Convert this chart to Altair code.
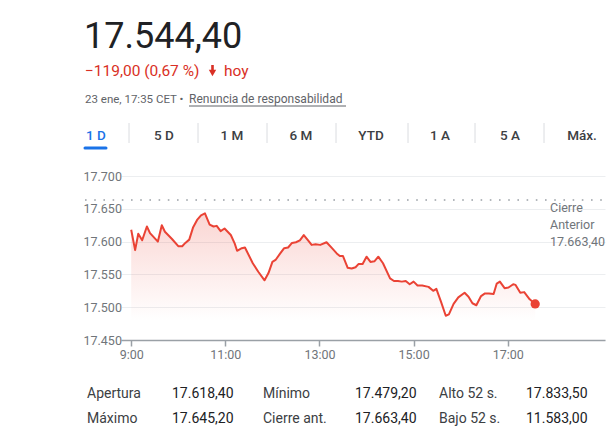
import altair as alt
import pandas as pd

# ---------------- data ----------------
price_text = "17.544,40"
change_text = "\u2212119,00 (0,67 %)"
change_suffix = "hoy"
date_text = "23 ene, 17:35 CET \u2022"
link_text = "Renuncia de responsabilidad"
tabs = ["1 D", "5 D", "1 M", "6 M", "YTD", "1 A", "5 A", "Máx."]
prev_close = 17663.4
prev_close_label = ["Cierre", "Anterior", "17.663,40"]

times = ["9:00", "9:05", "9:09", "9:14", "9:20", "9:24", "9:34", "9:39", "9:43", "9:52",
         "10:00", "10:05", "10:09", "10:14", "10:19", "10:24", "10:29", "10:34", "10:40", "10:45",
         "10:49", "10:54", "10:59", "11:07", "11:12", "11:15", "11:21", "11:25", "11:35", "11:42",
         "11:50", "11:55", "12:00", "12:04", "12:10", "12:15", "12:20", "12:25", "12:30", "12:35",
         "12:40", "12:46", "12:50", "12:55", "13:01", "13:09", "13:16", "13:22", "13:26", "13:30",
         "13:36", "13:41", "13:46", "13:50", "13:55", "14:00", "14:05", "14:10", "14:15", "14:21",
         "14:30", "14:35", "14:40", "14:45", "14:50", "14:55", "15:00", "15:05", "15:11", "15:19",
         "15:25", "15:29", "15:35", "15:41", "15:45", "15:51", "15:57", "16:05", "16:10", "16:15",
         "16:20", "16:26", "16:31", "16:36", "16:42", "16:46", "16:50", "16:56", "17:01", "17:07",
         "17:10", "17:16", "17:21", "17:28", "17:35"]
values = [17618, 17587, 17612, 17602, 17623, 17613, 17600, 17625, 17615, 17604,
          17593, 17593, 17598, 17603, 17622, 17633, 17640, 17643, 17626, 17623,
          17624, 17616, 17620, 17610, 17597, 17586, 17590, 17591, 17567, 17554,
          17541, 17552, 17569, 17572, 17582, 17590, 17591, 17598, 17599, 17602,
          17610, 17601, 17595, 17596, 17595, 17599, 17590, 17582, 17578, 17578,
          17560, 17559, 17561, 17566, 17566, 17577, 17569, 17570, 17577, 17567,
          17544, 17540, 17540, 17539, 17540, 17535, 17539, 17533, 17533, 17531,
          17525, 17528, 17508, 17487, 17489, 17505, 17515, 17522, 17516, 17506,
          17503, 17517, 17521, 17521, 17520, 17536, 17539, 17529, 17530, 17535,
          17534, 17522, 17523, 17512, 17505]

x_ticks = ["9:00", "11:00", "13:00", "15:00", "17:00"]
y_ticks = [17450, 17500, 17550, 17600, 17650, 17700]

stat_labels = [["Apertura", "Mínimo", "Alto 52 s."], ["Máximo", "Cierre ant.", "Bajo 52 s."]]
stat_values = [["17.618,40", "17.479,20", "17.833,50"], ["17.645,20", "17.663,40", "11.583,00"]]


def to_min(t):
    h, m = t.split(":")
    return int(h) * 60 + int(m)


df = pd.DataFrame({"t": [to_min(t) for t in times], "v": values})
last = df.tail(1)

W, H = 484, 164
FONT = "Roboto"
RED = "#ea4335"

xscale = alt.Scale(domain=[527, 1144], nice=False, zero=False)
yscale = alt.Scale(domain=[17450, 17700], nice=False, zero=False)

xaxis = alt.Axis(values=[to_min(t) for t in x_ticks],
                 labelExpr="floor(datum.value/60) + ':00'",
                 grid=False, domainColor="#9aa0a6", domainWidth=1.5,
                 tickColor="#9aa0a6", tickWidth=1.5, tickSize=6,
                 labelColor="#70757a", labelFontSize=12.5, labelFont=FONT,
                 labelPadding=2, labelOverlap=False)
yaxis = alt.Axis(values=y_ticks, grid=True, gridColor="#eceef0", gridWidth=1,
                 domain=False, ticks=False, tickSize=0,
                 labelAlign="left", labelPadding=38, labelBaseline="middle",
                 labelOverlap=False, labelFlush=False, labelBound=False,
                 labelColor="#70757a", labelFontSize=12.5, labelFont=FONT,
                 labelExpr="replace(format(datum.value, ','), ',', '.')")
xenc = alt.X("t:Q", scale=xscale, title=None, axis=xaxis)
yenc = alt.Y("v:Q", scale=yscale, title=None, axis=yaxis)

grad = alt.Gradient(gradient="linear",
                    stops=[alt.GradientStop(color="rgba(234,67,53,0.22)", offset=0),
                           alt.GradientStop(color="rgba(234,67,53,0.0)", offset=0.85)],
                    x1=0, x2=0, y1=0, y2=1)

area = alt.Chart(df).mark_area(color=grad, line=False).encode(x=xenc, y=yenc, y2=alt.datum(17450))
line = alt.Chart(df).mark_line(color=RED, strokeWidth=2, strokeJoin="round").encode(x=xenc, y=yenc)
dot = alt.Chart(last).mark_circle(color=RED, size=85, opacity=1).encode(x=xenc, y=yenc)

pc = alt.Chart(pd.DataFrame({"v": [prev_close]})).mark_rule(
    color="#9aa0a6", strokeDash=[1.6, 7.6], strokeWidth=1.6).encode(
    y=yenc, x=alt.value(-36), x2=alt.value(W))
pc_label = alt.Chart(pd.DataFrame({"t": [prev_close_label]})).mark_text(
    align="left", baseline="middle", font=FONT, fontSize=12.5, color="#70757a", lineHeight=17
).encode(text="t", x=alt.value(429), y=alt.value(32))

layers = [area, pc, line, dot, pc_label]


def txt(s, x, y, size, color, align="left", weight="normal", baseline="alphabetic"):
    return alt.Chart(pd.DataFrame({"s": [s]})).mark_text(
        align=align, baseline=baseline, font=FONT, fontSize=size, color=color, fontWeight=weight
    ).encode(text="s:N", x=alt.value(x), y=alt.value(y))


def one():
    return pd.DataFrame({"a": [0]})


# header
layers.append(txt(price_text, -37, -128, 36, "#202124"))
layers.append(txt(change_text, -36, -100, 15.5, "#d93025"))
layers.append(txt(change_suffix, 103, -100, 15.5, "#d93025"))
# down arrow icon
layers.append(alt.Chart(one()).mark_rule(color="#d93025", strokeWidth=2.6).encode(
    x=alt.value(91.5), y=alt.value(-111), y2=alt.value(-104)))
layers.append(alt.Chart(one()).mark_point(shape="triangle-down", filled=True, color="#d93025",
                                          opacity=1, size=55).encode(
    x=alt.value(91.5), y=alt.value(-103)))
layers.append(txt(date_text, -36, -73, 11.5, "#5f6368"))
layers.append(txt(link_text, 68, -73, 12, "#5f6368"))
layers.append(alt.Chart(one()).mark_rule(color="#5f6368", strokeWidth=1).encode(
    x=alt.value(68), x2=alt.value(225), y=alt.value(-70)))

# tabs
tab_x = [-25, 43, 111, 180, 250, 319, 389, 461]
sep_x = [8, 77, 146, 215, 287, 354, 423]
for i, t in enumerate(tabs):
    layers.append(txt(t, tab_x[i], -36, 13.5, "#1a73e8" if i == 0 else "#3c4043",
                      align="center", weight=500))
for sx in sep_x:
    layers.append(alt.Chart(one()).mark_rule(color="#dadce0", strokeWidth=1).encode(
        x=alt.value(sx), y=alt.value(-53), y2=alt.value(-33)))
layers.append(alt.Chart(one()).mark_rule(
    color="#1a73e8", strokeWidth=3, strokeCap="round").encode(
    x=alt.value(-36), x2=alt.value(-15), y=alt.value(-28)))

# stats table
col_lab = [-34, 142, 318]
col_val = [51, 234, 405]
row_y = [222, 246.5]
for r in range(2):
    for c in range(3):
        layers.append(txt(stat_labels[r][c], col_lab[c], row_y[r], 14, "#3c4043"))
        layers.append(txt(stat_values[r][c], col_val[c], row_y[r], 14, "#202124"))

chart = alt.layer(*layers).properties(
    width=W, height=H,
    autosize=alt.AutoSizeParams(type="none"),
    padding={"left": 113, "top": 168, "right": 3, "bottom": 97},
    background="white",
).configure_view(stroke=None)

chart.save("out.html", embed_options={"renderer": "svg", "actions": False})
